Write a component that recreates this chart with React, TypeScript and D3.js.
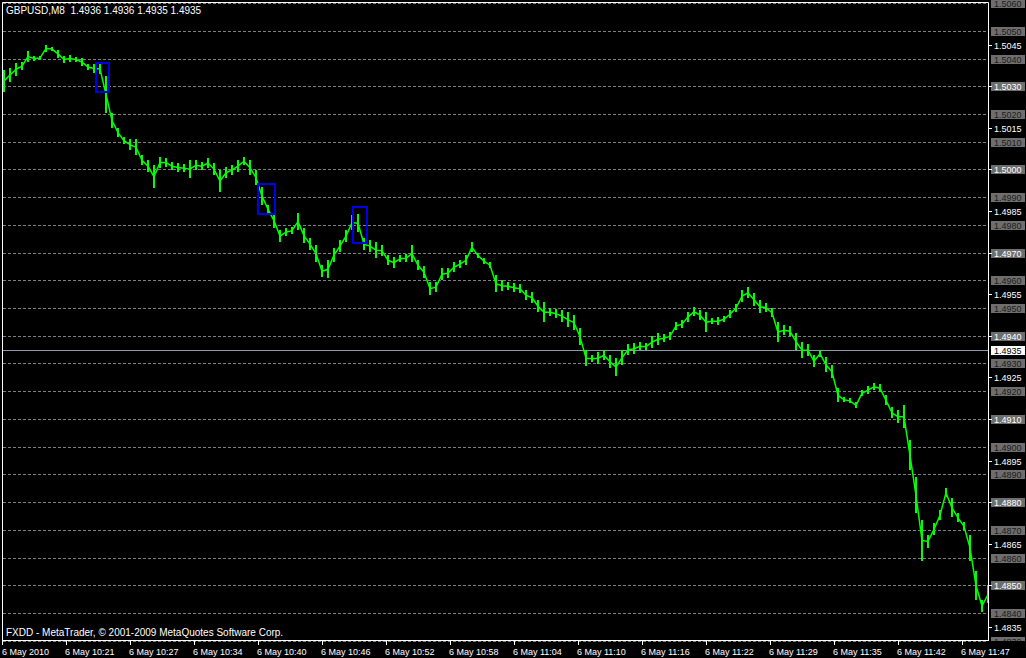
import { useMemo } from "react";
import * as d3 from "d3";

const W = 1026;
const H = 658;

const headerText = "GBPUSD,M8  1.4936 1.4936 1.4935 1.4935";
const copyrightText = "FXDD - MetaTrader, \u00a9 2001-2009 MetaQuotes Software Corp.";

// bottom axis labels, one every 64 bars
const timeLabels = [
  "6 May 2010", "6 May 10:21", "6 May 10:27", "6 May 10:34",
  "6 May 10:40", "6 May 10:46", "6 May 10:52", "6 May 10:58",
  "6 May 11:04", "6 May 11:10", "6 May 11:16", "6 May 11:22",
  "6 May 11:29", "6 May 11:35", "6 May 11:42", "6 May 11:47",
];
const barsPerLabel = 64;
const totalBars = 985;
const barStep = 6; // one sample every 6 bars

// price range of the window
const priceTop = 1.506;
const priceBottom = 1.483;

// horizontal lines (gray dashed, gray tag on the axis)
const lineLevels = [
  1.506, 1.505, 1.504, 1.503, 1.502, 1.501, 1.5, 1.499, 1.498, 1.497, 1.496, 1.495,
  1.494, 1.493, 1.492, 1.491, 1.49, 1.489, 1.488, 1.487, 1.486, 1.485, 1.484, 1.483,
];
// price axis ticks
const axisTicks = [
  1.5045, 1.503, 1.5015, 1.5, 1.4985, 1.497, 1.4955, 1.494, 1.4925, 1.491,
  1.4895, 1.488, 1.4865, 1.485, 1.4835,
];
const bidPrice = 1.4935;

// sampled bar highs / lows
const barHigh = [
  1.5036, 1.50368, 1.50386, 1.50389, 1.50429, 1.50411, 1.50411, 1.50451, 1.50443, 1.50433,
  1.50411, 1.50414, 1.50407, 1.50404, 1.50382, 1.50382, 1.50382, 1.5034, 1.50205, 1.50151,
  1.50118, 1.50111, 1.50111, 1.50053, 1.50035, 1.50017, 1.50046, 1.50043, 1.50028, 1.50025,
  1.50021, 1.50035, 1.50035, 1.50028, 1.50043, 1.50025, 1.49999, 1.5001, 1.50017, 1.50035,
  1.50046, 1.50035, 1.49999, 1.49938, 1.49873, 1.49844, 1.49783, 1.4979, 1.49794, 1.49844,
  1.4979, 1.49754, 1.49729, 1.49656, 1.49674, 1.49718, 1.49747, 1.49783, 1.49837, 1.4984,
  1.49754, 1.49747, 1.49739, 1.49729, 1.49692, 1.49685, 1.49692, 1.49696, 1.49729, 1.49674,
  1.49653, 1.49595, 1.49595, 1.49646, 1.49646, 1.49667, 1.49674, 1.49692, 1.49739, 1.497,
  1.49682, 1.49667, 1.4962, 1.49602, 1.49595, 1.49591, 1.49588, 1.49566, 1.49559, 1.4953,
  1.49523, 1.49501, 1.49497, 1.49494, 1.49487, 1.49476, 1.49429, 1.4935, 1.49331, 1.49342,
  1.4935, 1.49331, 1.49321, 1.4935, 1.49371, 1.49375, 1.49378, 1.49375, 1.494, 1.49411,
  1.49407, 1.49415, 1.49451, 1.49458, 1.49487, 1.49505, 1.49494, 1.49487, 1.49465, 1.49469,
  1.49472, 1.49494, 1.49516, 1.49566, 1.49577, 1.49555, 1.4953, 1.49519, 1.49501, 1.49451,
  1.4944, 1.49436, 1.49411, 1.49378, 1.49371, 1.49331, 1.4935, 1.49324, 1.49295, 1.49212,
  1.4918, 1.49176, 1.49162, 1.49205, 1.4922, 1.4923, 1.49227, 1.49187, 1.49144, 1.49133,
  1.49151, 1.49025, 1.48891, 1.48736, 1.48682, 1.48725, 1.48772, 1.48851, 1.48815, 1.48761,
  1.48729, 1.48682, 1.48555, 1.48447, 1.48501,
];
const barLow = [
  1.50281, 1.50317, 1.50339, 1.5036, 1.50389, 1.50393, 1.50396, 1.50425, 1.50429, 1.50404,
  1.50386, 1.50389, 1.50389, 1.50375, 1.5036, 1.5035, 1.50346, 1.50205, 1.50151, 1.50118,
  1.50093, 1.50072, 1.50053, 1.50017, 1.49992, 1.49934, 1.50007, 1.5001, 1.49999, 1.49992,
  1.49992, 1.4997, 1.49999, 1.49999, 1.50007, 1.49981, 1.4992, 1.4997, 1.49981, 1.49992,
  1.50017, 1.49981, 1.49945, 1.49873, 1.49844, 1.4979, 1.49739, 1.49761, 1.49768, 1.49783,
  1.49736, 1.49711, 1.49667, 1.49613, 1.49609, 1.49667, 1.49703, 1.49739, 1.49783, 1.49776,
  1.49711, 1.49703, 1.49682, 1.49689, 1.49656, 1.49646, 1.49667, 1.49667, 1.49667, 1.49638,
  1.49609, 1.49548, 1.49559, 1.49602, 1.49609, 1.49631, 1.49646, 1.49656, 1.49703, 1.49682,
  1.4966, 1.49646, 1.49559, 1.49562, 1.49566, 1.49559, 1.49555, 1.4953, 1.49519, 1.49487,
  1.49451, 1.49472, 1.49465, 1.49451, 1.49433, 1.49422, 1.49368, 1.49292, 1.49306, 1.49299,
  1.49313, 1.49285, 1.49256, 1.49295, 1.49331, 1.49335, 1.4935, 1.4935, 1.49357, 1.49368,
  1.49378, 1.49386, 1.49422, 1.49429, 1.49451, 1.49472, 1.49458, 1.49415, 1.49443, 1.4944,
  1.49451, 1.49465, 1.49487, 1.49523, 1.49537, 1.49508, 1.49483, 1.49487, 1.49469, 1.49378,
  1.49404, 1.494, 1.4935, 1.49321, 1.49328, 1.49288, 1.49324, 1.4927, 1.49248, 1.49162,
  1.49162, 1.49158, 1.4914, 1.49183, 1.49191, 1.49205, 1.49198, 1.49151, 1.49104, 1.49086,
  1.49068, 1.48916, 1.48761, 1.48591, 1.48638, 1.48682, 1.48736, 1.48819, 1.48747, 1.48729,
  1.487, 1.48591, 1.48447, 1.48407, 1.48436,
];

// blue rectangles drawn on the chart (bar from/to, price top/bottom)
const boxFromBar = [93, 255, 350];
const boxToBar = [106, 272, 364];
const boxTop = [1.50386, 1.49949, 1.49866];
const boxBottom = [1.50281, 1.49841, 1.49736];

const FONT = "'Liberation Sans', Arial, sans-serif";
const GREEN = "#00ff00";

export default function App() {
  const left = 3;
  const right = 988;
  const top = 3;
  const bottom = 641;

  const x = useMemo(
    () => d3.scaleLinear().domain([0, totalBars]).range([left, right]),
    []
  );
  const y = useMemo(
    () => d3.scaleLinear().domain([priceBottom, priceTop]).range([641.2, 3.6]),
    []
  );

  const fmt = d3.format(".4f");
  const labelSet = new Set(axisTicks.map((t) => fmt(t)));
  const crisp = (v: number) => Math.round(v) + 0.5;

  // thin trace joining bar to bar
  const trace = d3
    .line<number>()
    .x((_, i) => x(i * barStep + 1))
    .y((hi, i) => y((hi + barLow[i]) / 2))(barHigh);

  return (
    <svg
      width={W}
      height={H}
      style={{ position: "absolute", left: 0, top: 0, display: "block" }}
      fontFamily={FONT}
    >
      <defs>
        <clipPath id="plot">
          <rect x={left} y={top} width={right - left} height={bottom - top} />
        </clipPath>
        <clipPath id="axis">
          <rect x={right} y={0} width={W - right} height={bottom} />
        </clipPath>
      </defs>
      <rect width={W} height={H} fill="#000" />

      {/* dashed horizontal lines */}
      {lineLevels.map((v) => (
        <line
          key={"g" + v}
          x1={left}
          x2={right}
          y1={crisp(y(v) - 0.5)}
          y2={crisp(y(v) - 0.5)}
          stroke="#808080"
          strokeDasharray="3,2"
          strokeWidth={1}
        />
      ))}

      {/* bid line */}
      <line
        x1={left}
        x2={right}
        y1={crisp(y(bidPrice) - 0.5)}
        y2={crisp(y(bidPrice) - 0.5)}
        stroke="#8a98aa"
        strokeWidth={1}
      />

      {/* bars */}
      <g clipPath="url(#plot)">
        <path d={trace ?? ""} fill="none" stroke={GREEN} strokeWidth={1.5} />
        {barHigh.map((hi, i) => {
          const cx = x(i * barStep + 1);
          const yt = Math.round(y(hi));
          const yb = Math.max(Math.round(y(barLow[i])), yt + 1);
          return (
            <rect
              key={"b" + i}
              x={Math.round(cx) - 1}
              y={yt}
              width={2}
              height={yb - yt}
              fill={GREEN}
            />
          );
        })}
        {boxFromBar.map((b, i) => (
          <rect
            key={"r" + i}
            x={Math.round(x(b))}
            y={Math.round(y(boxTop[i]))}
            width={Math.round(x(boxToBar[i]) - x(b))}
            height={Math.round(y(boxBottom[i]) - y(boxTop[i]))}
            fill="none"
            stroke="#0000e6"
            strokeWidth={2}
          />
        ))}
      </g>

      {/* frame */}
      <path
        d={`M${left - 0.5},${bottom} V${top - 0.5} H${right + 0.5} V${bottom}`}
        fill="none"
        stroke="#fff"
        strokeWidth={1}
      />
      <line
        x1={left - 1}
        x2={right + 1}
        y1={bottom - 0.5}
        y2={bottom - 0.5}
        stroke="#fff"
        strokeWidth={1}
      />

      {/* price axis */}
      <g clipPath="url(#axis)" fontSize={9}>
        {lineLevels.map((v) => {
          const cy = y(v);
          return (
            <g key={"l" + v}>
              <rect x={991} y={Math.round(cy - 4.5)} width={34} height={9} fill="#6e6e6e" />
              {!labelSet.has(fmt(v)) && (
                <text x={994} y={Math.round(cy + 3.5)} fill="#1c1c1c">
                  {fmt(v)}
                </text>
              )}
            </g>
          );
        })}
        {axisTicks.map((v) => {
          const cy = y(v);
          return (
            <g key={"t" + v}>
              <line x1={989} x2={992} y1={crisp(cy - 0.5)} y2={crisp(cy - 0.5)} stroke="#fff" />
              <text x={994} y={Math.round(cy + 3.5)} fill="#fff">
                {fmt(v)}
              </text>
            </g>
          );
        })}
        <rect x={991} y={Math.round(y(bidPrice) - 4.5)} width={34} height={9} fill="#fff" />
        <text x={994} y={Math.round(y(bidPrice) + 3.5)} fill="#000">
          {fmt(bidPrice)}
        </text>
      </g>

      {/* time axis */}
      <g fontSize={9} fill="#fff">
        {timeLabels.map((t, i) => {
          const tx = Math.round(x(i * barsPerLabel));
          return (
            <g key={"x" + i}>
              <line x1={tx - 0.5} x2={tx - 0.5} y1={bottom} y2={bottom + 4} stroke="#fff" />
              <text x={i === 0 ? tx - 1 : tx - 2} y={655}>
                {t}
              </text>
            </g>
          );
        })}
      </g>

      <text x={6} y={14} fontSize={10} fill="#fff" style={{ whiteSpace: "pre" }}>
        {headerText}
      </text>
      <text x={6} y={636} fontSize={10} fill="#fff">
        {copyrightText}
      </text>
    </svg>
  );
}
